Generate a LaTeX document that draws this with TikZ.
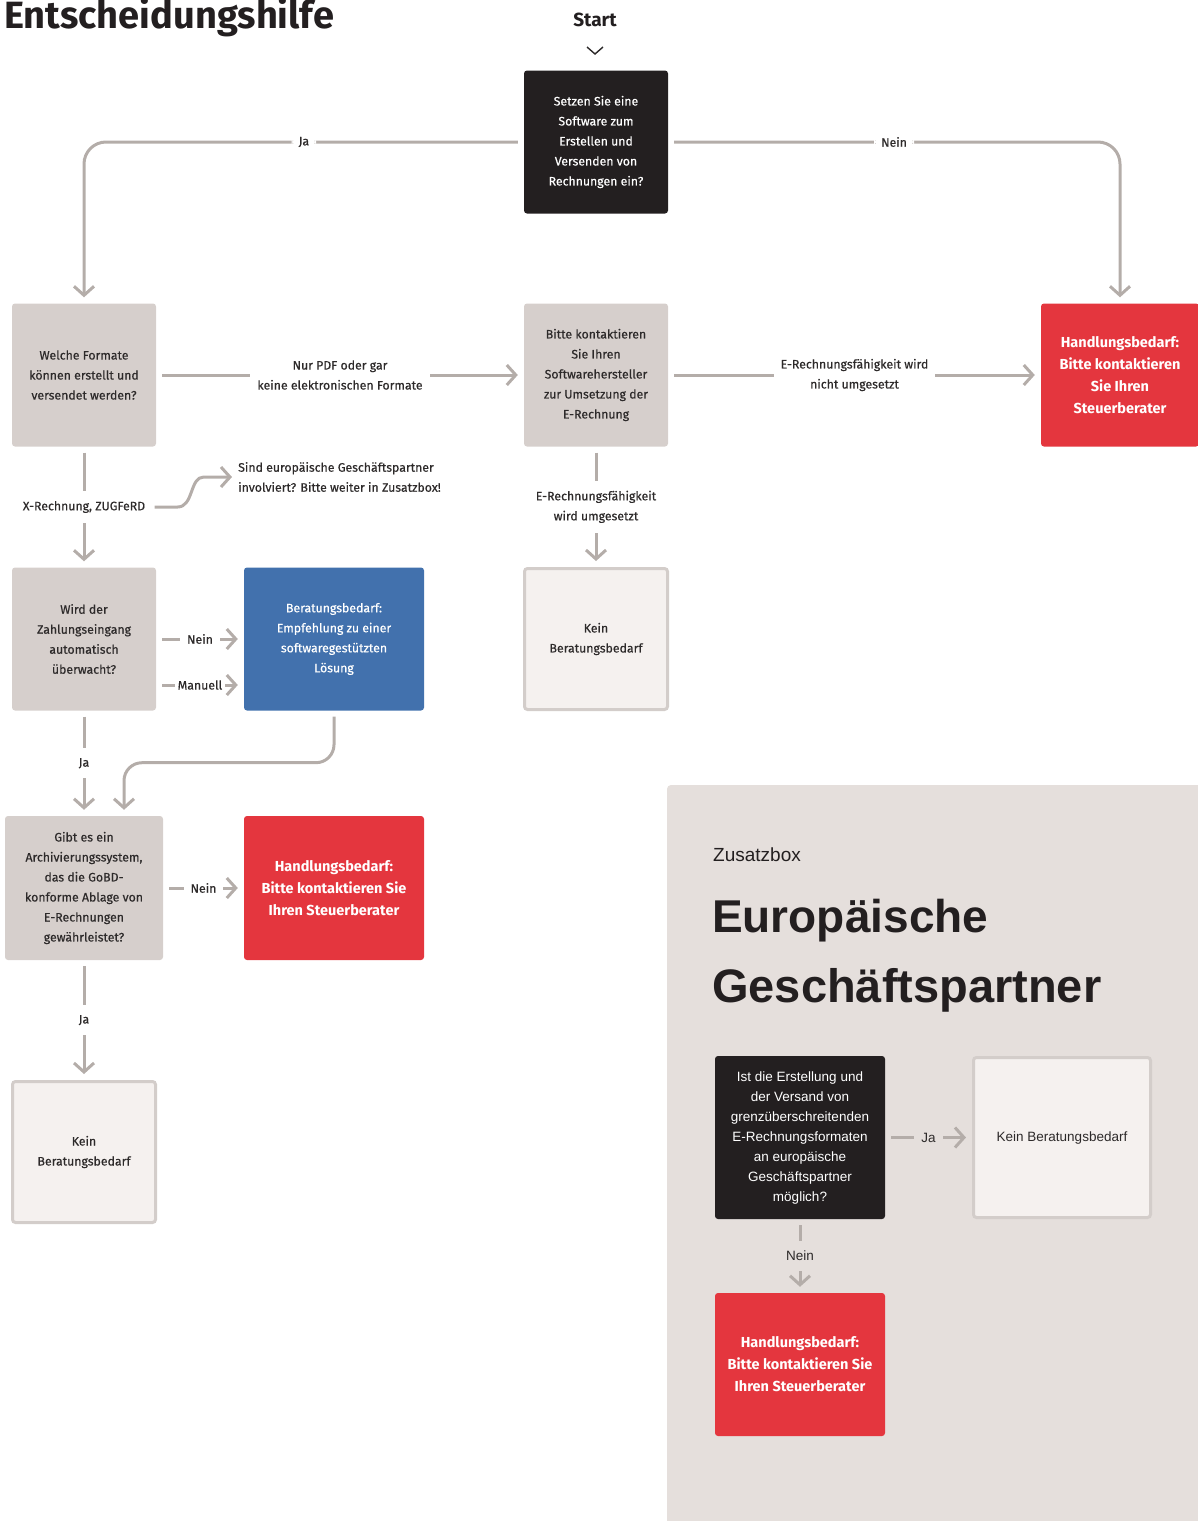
\documentclass[tikz,border=0pt]{standalone}
\usepackage{fontspec}
\setmainfont{Fira Sans}[UprightFeatures={FakeBold=0.45}]
\newfontfamily\zfont{Liberation Sans}
\usetikzlibrary{arrows.meta}

\definecolor{boxgrey}{HTML}{D6CFCC}
\definecolor{boxdark}{HTML}{231F20}
\definecolor{boxred}{HTML}{E4363E}
\definecolor{boxblue}{HTML}{4271AD}
\definecolor{boxlight}{HTML}{F5F1EF}
\definecolor{boxline}{HTML}{D3CDCA}
\definecolor{linegrey}{HTML}{B4ADA9}
\definecolor{zbg}{HTML}{E5DFDC}
\definecolor{txtdark}{HTML}{2D2A2A}

\tikzset{
  box/.style={rectangle, rounded corners=3pt, minimum width=144pt, minimum height=143pt, align=center, inner sep=4pt, text=txtdark, font=\fontsize{12.3}{20}\selectfont},
  qbox/.style={box, fill=boxgrey},
  darkbox/.style={box, fill=boxdark, text=white},
  redbox/.style={box, fill=boxred, text=white, font=\bfseries\fontsize{14.5}{22}\selectfont},
  bluebox/.style={box, fill=boxblue, text=white},
  okbox/.style={box, fill=boxlight, draw=boxline, line width=3pt, minimum width=143pt, minimum height=141pt},
  conn/.style={draw=linegrey, line width=3pt, -{Straight Barb[length=9pt,width=20pt]}, shorten <=6pt, shorten >=6pt},
  lbl/.style={fill=white, inner xsep=7pt, inner ysep=10pt, align=center, text=txtdark, font=\fontsize{12.3}{20}\selectfont},
  zlbl/.style={lbl, fill=zbg, font=\zfont\fontsize{13.5}{20}\selectfont},
  zbox/.style={font=\zfont\fontsize{13.5}{20}\selectfont}
}

\begin{document}
\begin{tikzpicture}[x=1pt, y=-1pt]
\useasboundingbox (0,0) rectangle (1197,1521);

% headings
\node[anchor=base west, inner sep=0, text=boxdark, font=\bfseries\fontsize{38}{40}\selectfont] (title) at (4,28) {Entscheidungshilfe};
\node[text=boxdark, font=\bfseries\fontsize{19}{22}\selectfont] (start) at (595,20) {Start};
\draw[txtdark, line width=1.4pt] (start.center) ++(-8,27) -- ++(8,7) -- ++(8,-7);

% main flow
\node[darkbox] (q1) at (596,142) {Setzen Sie eine\\Software zum\\Erstellen und\\Versenden von\\Rechnungen ein?};
\node[qbox] (formate) at (84,375) {Welche Formate\\können erstellt und\\versendet werden?};
\node[qbox] (hersteller) at (596,375) {Bitte kontaktieren\\Sie Ihren\\Softwarehersteller\\zur Umsetzung der\\E-Rechnung};
\node[redbox, minimum width=158pt] (hb1) at (1120,375) {Handlungsbedarf:\\Bitte kontaktieren\\Sie Ihren\\Steuerberater};
\node[qbox] (zahlung) at (84,639) {Wird der\\Zahlungseingang\\automatisch\\überwacht?};
\node[bluebox, minimum width=180pt] (beratung) at (334,639) {Beratungsbedarf:\\Empfehlung zu einer\\softwaregestützten\\Lösung};
\node[okbox] (kein1) at (596,639) {Kein\\Beratungsbedarf};
\node[qbox, minimum width=158pt, minimum height=144pt] (archiv) at (84,888) {Gibt es ein\\Archivierungssystem,\\das die GoBD-\\konforme Ablage von\\E-Rechnungen\\gewährleistet?};
\node[redbox, minimum width=180pt, minimum height=144pt] (hb2) at (334,888) {Handlungsbedarf:\\Bitte kontaktieren Sie\\Ihren Steuerberater};
\node[okbox] (kein2) at (84,1152) {Kein\\Beratungsbedarf};
\node[anchor=west, inner sep=0, align=left, text=txtdark, font=\fontsize{12.3}{20}\selectfont] (hint) at (238,477) {Sind europäische Geschäftspartner\\involviert? Bitte weiter in Zusatzbox!};

\draw[conn, rounded corners=22pt] (q1.west) -| node[lbl, pos=0.25]{Ja} (formate.north);
\draw[conn, rounded corners=22pt] (q1.east) -| node[lbl, pos=0.25]{Nein} (hb1.north);
\draw[conn] (formate) -- node[lbl]{Nur PDF oder gar\\keine elektronischen Formate} (hersteller);
\draw[conn] (hersteller) -- node[lbl]{E-Rechnungsfähigkeit wird\\nicht umgesetzt} (hb1);
\draw[conn] (formate) -- node[lbl] (xlbl) {X-Rechnung, ZUGFeRD} (zahlung);
\draw[conn, shorten <=1pt] (xlbl.east) -- ++(24,0) .. controls +(16,0) and +(-14,0) .. ++(26,-30) -- (hint.west);
\draw[conn] (hersteller) -- node[lbl]{E-Rechnungsfähigkeit\\wird umgesetzt} (kein1);
\draw[conn] (zahlung) -- node[lbl]{Nein} (beratung);
\draw[conn] ([yshift=-46pt]zahlung.east) -- node[lbl, inner xsep=3pt]{Manuell} ([yshift=-46pt]beratung.west);
\draw[conn] (zahlung) -- node[lbl]{Ja} (archiv);
\draw[conn, rounded corners=18pt] (beratung.south) -- ++(0,52) -| ([xshift=40pt]archiv.north);
\draw[conn] (archiv) -- node[lbl]{Nein} (hb2);
\draw[conn] (archiv) -- node[lbl]{Ja} (kein2);

% Zusatzbox
\fill[zbg, rounded corners=4pt] (667,785) rectangle (1230,1560);
\node[anchor=base west, inner sep=0, text=boxdark, font=\zfont\fontsize{19}{22}\selectfont] (ztag) at (713,861) {Zusatzbox};
\node[anchor=base west, inner sep=0, text=boxdark, font=\zfont\bfseries\fontsize{46}{50}\selectfont] (ztitle1) at (712,932) {Europäische};
\node[anchor=base west, inner sep=0, text=boxdark, font=\zfont\bfseries\fontsize{47}{50}\selectfont] (ztitle2) at (712,1002) {Geschäftspartner};

\node[darkbox, zbox, minimum width=170pt, minimum height=163pt] (zq) at (800,1137.5) {Ist die Erstellung und\\der Versand von\\grenzüberschreitenden\\E-Rechnungsformaten\\an europäische\\Geschäftspartner\\möglich?};
\node[okbox, zbox, minimum width=177pt, minimum height=160pt] (zkein) at (1062,1137.5) {Kein Beratungsbedarf};
\node[redbox, minimum width=170pt, minimum height=143pt] (zhb) at (800,1364.5) {Handlungsbedarf:\\Bitte kontaktieren Sie\\Ihren Steuerberater};

\draw[conn] (zq) -- node[zlbl]{Ja} (zkein);
\draw[conn] (zq) -- node[zlbl]{Nein} (zhb);
\end{tikzpicture}
\end{document}
